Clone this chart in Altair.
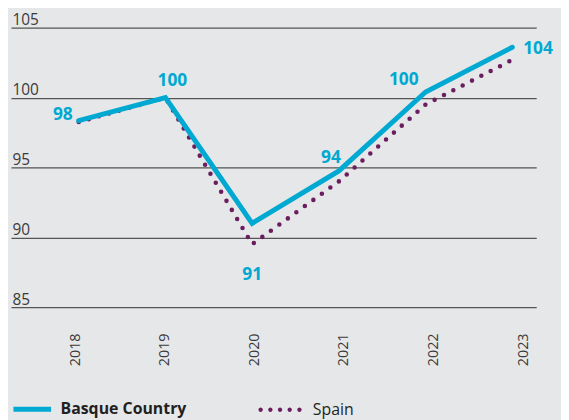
import altair as alt
import pandas as pd

# ---- data ----
years = [2018, 2019, 2020, 2021, 2022, 2023]
basque = [98.35, 100.0, 91.0, 94.75, 100.4, 103.6]
spain = [98.25, 100.0, 89.5, 94.0, 99.5, 102.7]
value_labels = ["98", "100", "91", "94", "100", "104"]
y_ticks = [85, 90, 95, 100, 105]
series_names = ["Basque Country", "Spain"]

# ---- styles ----
CYAN = "#00a9d1"
PURPLE = "#6b1e5f"
BG = "#e6e7e9"
TXT = "#3a3a3a"
FONT = "Open Sans"
# value-label placement per year: (align, dx, dy)
label_style = [("right", -6, -1), ("center", 7, -12), ("center", 0, 57),
               ("right", 2, -8), ("center", -22, -7), ("left", 11, 7)]

rows = []
for i, yr in enumerate(years):
    rows.append({"year": yr, "value": basque[i], "series": series_names[0],
                 "label": value_labels[i], "idx": i})
    rows.append({"year": yr, "value": spain[i], "series": series_names[1],
                 "label": "", "idx": i})
df = pd.DataFrame(rows)

x_pts = alt.X("year:Q", scale=alt.Scale(domain=[2017.219, 2023.276], nice=False, zero=False),
              axis=None)
y_enc = alt.Y("value:Q", scale=alt.Scale(domain=[85, 105], nice=False, zero=False),
              axis=alt.Axis(values=y_ticks, grid=True, ticks=False, tickSize=0, domain=False,
                            labelAlign="left", labelBaseline="alphabetic", labelPadding=-1,
                            labelOffset=-3, labelFontSize=15.5, labelFont=FONT,
                            labelColor=TXT, gridColor="#555555", gridWidth=1.2, title=None))

base = alt.Chart(df)

dots_path = "".join(
    f"M{c - 0.1:.3f},0a0.1,0.1 0 1,0 0.2,0a0.1,0.1 0 1,0 -0.2,0"
    for c in (-0.89, -0.443, 0.0, 0.443, 0.89)
)

spain_line = base.transform_filter(alt.datum.series == "Spain").mark_line(
    strokeDash=[0, 10.6], strokeCap="round", strokeWidth=4.6
).encode(
    x=x_pts, y=y_enc,
    color=alt.Color("series:N", scale=alt.Scale(domain=["Spain"], range=[PURPLE]),
                    legend=alt.Legend(orient="none", legendX=249.5, legendY=363.5, title=None,
                                      symbolType=dots_path,
                                      symbolSize=1936, symbolFillColor=PURPLE,
                                      symbolStrokeWidth=0, labelFontSize=16, labelFont=FONT,
                                      labelColor="#231f20", labelOffset=11, padding=0))
)

basque_line = base.transform_filter(alt.datum.series == "Basque Country").mark_line(
    strokeWidth=5, strokeCap="round"
).encode(
    x=x_pts, y=y_enc,
    color=alt.Color("series:N", scale=alt.Scale(domain=["Basque Country"], range=[CYAN]),
                    legend=alt.Legend(orient="none", legendX=0, legendY=363.5, title=None,
                                      symbolType="stroke", symbolSize=1444, symbolStrokeWidth=5,
                                      labelFontSize=16, labelFontWeight="bold", labelFont=FONT,
                                      labelColor="#231f20", labelOffset=7, padding=0))
)

text_layers = []
for i, (al, dx, dy) in enumerate(label_style):
    text_layers.append(
        base.transform_filter((alt.datum.series == "Basque Country") & (alt.datum.idx == i))
        .mark_text(align=al, baseline="alphabetic", dx=dx, dy=dy, font=FONT,
                   fontWeight="bold", fontSize=17.5, color=CYAN)
        .encode(x=x_pts, y=y_enc, text="label:N")
    )

axis_layer = base.transform_filter(alt.datum.series == "Basque Country").mark_point(
    opacity=0
).encode(
    x=alt.X("year:Q", scale=alt.Scale(domain=[2017.284, 2023.147], nice=False, zero=False),
            axis=alt.Axis(values=years, format="d", labelAngle=270, labelFlush=False,
                          labelOverlap=False, ticks=False, tickSize=0, domain=False, grid=False,
                          labelPadding=26, labelFontSize=14.5, labelFont=FONT, labelColor=TXT,
                          title=None, orient="bottom")),
    y=y_enc,
)

chart = alt.layer(spain_line, basque_line, *text_layers, axis_layer).resolve_scale(
    x="independent", color="independent"
).properties(
    width=530, height=282,
    padding={"left": 3, "top": 18, "right": 25, "bottom": 112},
    autosize=alt.AutoSizeParams(type="none"),
    background=BG,
).configure_view(stroke=None)

chart.save("out.html", embed_options={"renderer": "svg", "actions": False})
